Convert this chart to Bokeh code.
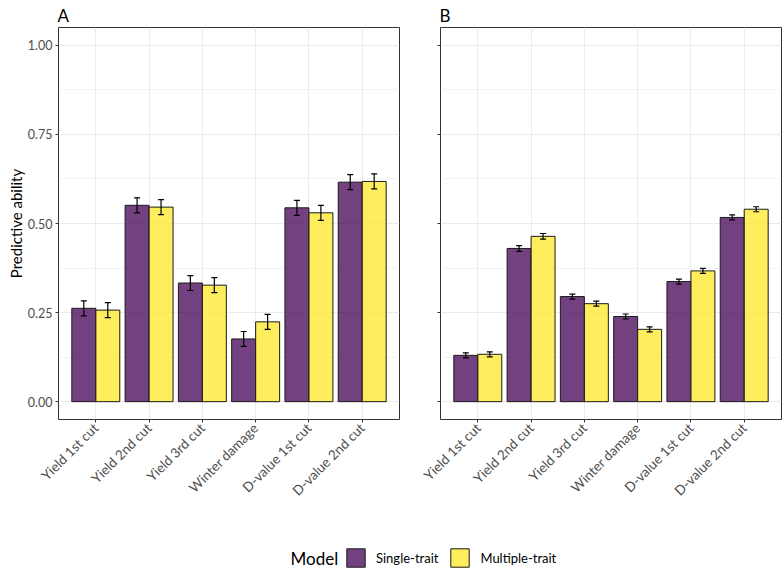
from bokeh.plotting import figure
from bokeh.models import (ColumnDataSource, FactorRange, Range1d, FixedTicker,
                          NumeralTickFormatter, CustomJSTickFormatter, Whisker,
                          TeeHead, Legend, LegendItem, Label)
from bokeh.layouts import column, row
from bokeh.transform import dodge
from bokeh.embed import file_html
from bokeh.resources import INLINE

# ---- data -------------------------------------------------------------
traits = ["Yield 1st cut", "Yield 2nd cut", "Yield 3rd cut",
          "Winter damage", "D-value 1st cut", "D-value 2nd cut"]

# Panel A
a_single = [0.262, 0.551, 0.333, 0.176, 0.544, 0.616]
a_single_err = [0.021, 0.021, 0.021, 0.021, 0.021, 0.021]
a_multi = [0.257, 0.546, 0.327, 0.224, 0.530, 0.618]
a_multi_err = [0.021, 0.021, 0.021, 0.021, 0.021, 0.021]

# Panel B
b_single = [0.130, 0.430, 0.295, 0.239, 0.337, 0.517]
b_single_err = [0.007, 0.008, 0.007, 0.007, 0.007, 0.007]
b_multi = [0.133, 0.464, 0.275, 0.203, 0.367, 0.540]
b_multi_err = [0.007, 0.008, 0.007, 0.007, 0.007, 0.007]

panel_tags = ["A", "B"]
models = ["Single-trait", "Multiple-trait"]
y_ticks = [0.0, 0.25, 0.5, 0.75, 1.0]
y_minor = [0.125, 0.375, 0.625, 0.875]

# ---- style ------------------------------------------------------------
FONT = "Lato"
COL_SINGLE = "#440154"
COL_MULTI = "#FDE725"
FILL_ALPHA = 0.75
GRID = "#EBEBEB"
DARK = "#333333"
TICK_TXT = "#4D4D4D"
BAR_W = 0.45


def make_source(vals, errs):
    return ColumnDataSource(dict(
        trait=traits,
        val=vals,
        upper=[v + e for v, e in zip(vals, errs)],
        lower=[v - e for v, e in zip(vals, errs)],
    ))


def panel(single, single_err, multi, multi_err, width, border_left,
          border_right, show_labels):
    p = figure(width=width, height=495, output_backend="svg",
               toolbar_location=None,
               x_range=FactorRange(factors=traits, range_padding=0.2,
                                   range_padding_units="absolute"),
               y_range=Range1d(-0.05, 1.05),
               min_border_left=border_left, min_border_right=border_right,
               min_border_top=2, min_border_bottom=101)

    p.outline_line_color = DARK
    p.outline_line_width = 1
    p.background_fill_color = "white"
    p.border_fill_color = "white"

    # grid
    p.xgrid.grid_line_color = GRID
    p.xgrid.grid_line_width = 1.1
    p.ygrid.grid_line_color = GRID
    p.ygrid.grid_line_width = 1.1
    p.ygrid.minor_grid_line_color = GRID
    p.ygrid.minor_grid_line_width = 0.6

    # axes
    p.yaxis.ticker = FixedTicker(ticks=y_ticks, minor_ticks=y_minor)
    for ax in (p.xaxis[0], p.yaxis[0]):
        ax.axis_line_color = None
        ax.major_tick_line_color = DARK
        ax.major_tick_in = 0
        ax.major_tick_out = 3
        ax.minor_tick_line_color = None
        ax.major_label_text_font = FONT
        ax.major_label_text_font_size = "12.5px"
        ax.major_label_text_color = TICK_TXT
        ax.major_label_standoff = 3
    p.xaxis.major_label_orientation = 0.785398
    p.xaxis.major_label_text_font_size = "13.5px"
    if show_labels:
        p.yaxis.formatter = NumeralTickFormatter(format="0.00")
        p.yaxis.major_label_standoff = 2
        p.yaxis.axis_label = "Predictive ability"
        p.yaxis.axis_label_text_font = FONT
        p.yaxis.axis_label_text_font_size = "15px"
        p.yaxis.axis_label_text_font_style = "normal"
        p.yaxis.axis_label_text_color = "black"
        p.yaxis.axis_label_standoff = 0
    else:
        # shared y scale: ticks only, no labels
        p.yaxis.formatter = CustomJSTickFormatter(code="return ''")
        p.yaxis.major_label_standoff = 0

    for vals, errs, off, col in ((single, single_err, -BAR_W / 2, COL_SINGLE),
                                 (multi, multi_err, BAR_W / 2, COL_MULTI)):
        src = make_source(vals, errs)
        p.vbar(x=dodge("trait", off, range=p.x_range), top="val",
               bottom=0, width=BAR_W, source=src,
               fill_color=col, fill_alpha=FILL_ALPHA,
               line_color="#1a1a1a", line_width=1)
        w = Whisker(base=dodge("trait", off, range=p.x_range),
                    upper="upper", lower="lower", source=src,
                    level="annotation",
                    line_color="black", line_width=1.2,
                    upper_head=TeeHead(size=6, line_color="black",
                                       line_width=1.2),
                    lower_head=TeeHead(size=6, line_color="black",
                                       line_width=1.2))
        p.add_layout(w)
    return p


pa = panel(a_single, a_single_err, a_multi, a_multi_err,
           width=420, border_left=58, border_right=21, show_labels=True)
pb = panel(b_single, b_single_err, b_multi, b_multi_err,
           width=362, border_left=20, border_right=1, show_labels=False)


def strip(height):
    s = figure(width=782, height=height, output_backend="svg",
               toolbar_location=None, x_range=Range1d(0, 1),
               y_range=Range1d(0, 1), min_border=0, outline_line_color=None)
    s.axis.visible = False
    s.grid.visible = False
    return s


# ---- panel tags strip ------------------------------------------------
hdr = strip(25)
for tag, x in zip(panel_tags, (57, 439)):
    hdr.add_layout(Label(x=x, y=10, x_units="screen", y_units="screen",
                         text=tag, text_font=FONT, text_font_size="17px",
                         text_color="black", text_baseline="alphabetic"))

# ---- shared legend strip ---------------------------------------------
lg = strip(50)
items = []
for name, col in zip(models, (COL_SINGLE, COL_MULTI)):
    # key-only renderers: hidden in the strip, still drawn by the legend
    r = lg.vbar(x=[0.5], top=[1], width=0.1, fill_color=col,
                fill_alpha=FILL_ALPHA, line_color="#1a1a1a", line_width=1,
                visible=False)
    items.append(LegendItem(label=name, renderers=[r]))
legend = Legend(items=items, orientation="horizontal", location=(344, 1),
                glyph_width=23, glyph_height=23, label_standoff=9,
                spacing=10, padding=0, margin=0,
                border_line_color=None, background_fill_alpha=0,
                inactive_fill_alpha=0,
                label_text_font=FONT, label_text_font_size="13px",
                label_text_color="black")
lg.add_layout(legend)
lg.add_layout(Label(x=290, y=12.5, x_units="screen", y_units="screen",
                    text="Model", text_font=FONT, text_font_size="17px",
                    text_baseline="middle", text_color="black"))

layout = column(hdr, row(pa, pb), lg)
open("out.html", "w").write(file_html(layout, INLINE))
